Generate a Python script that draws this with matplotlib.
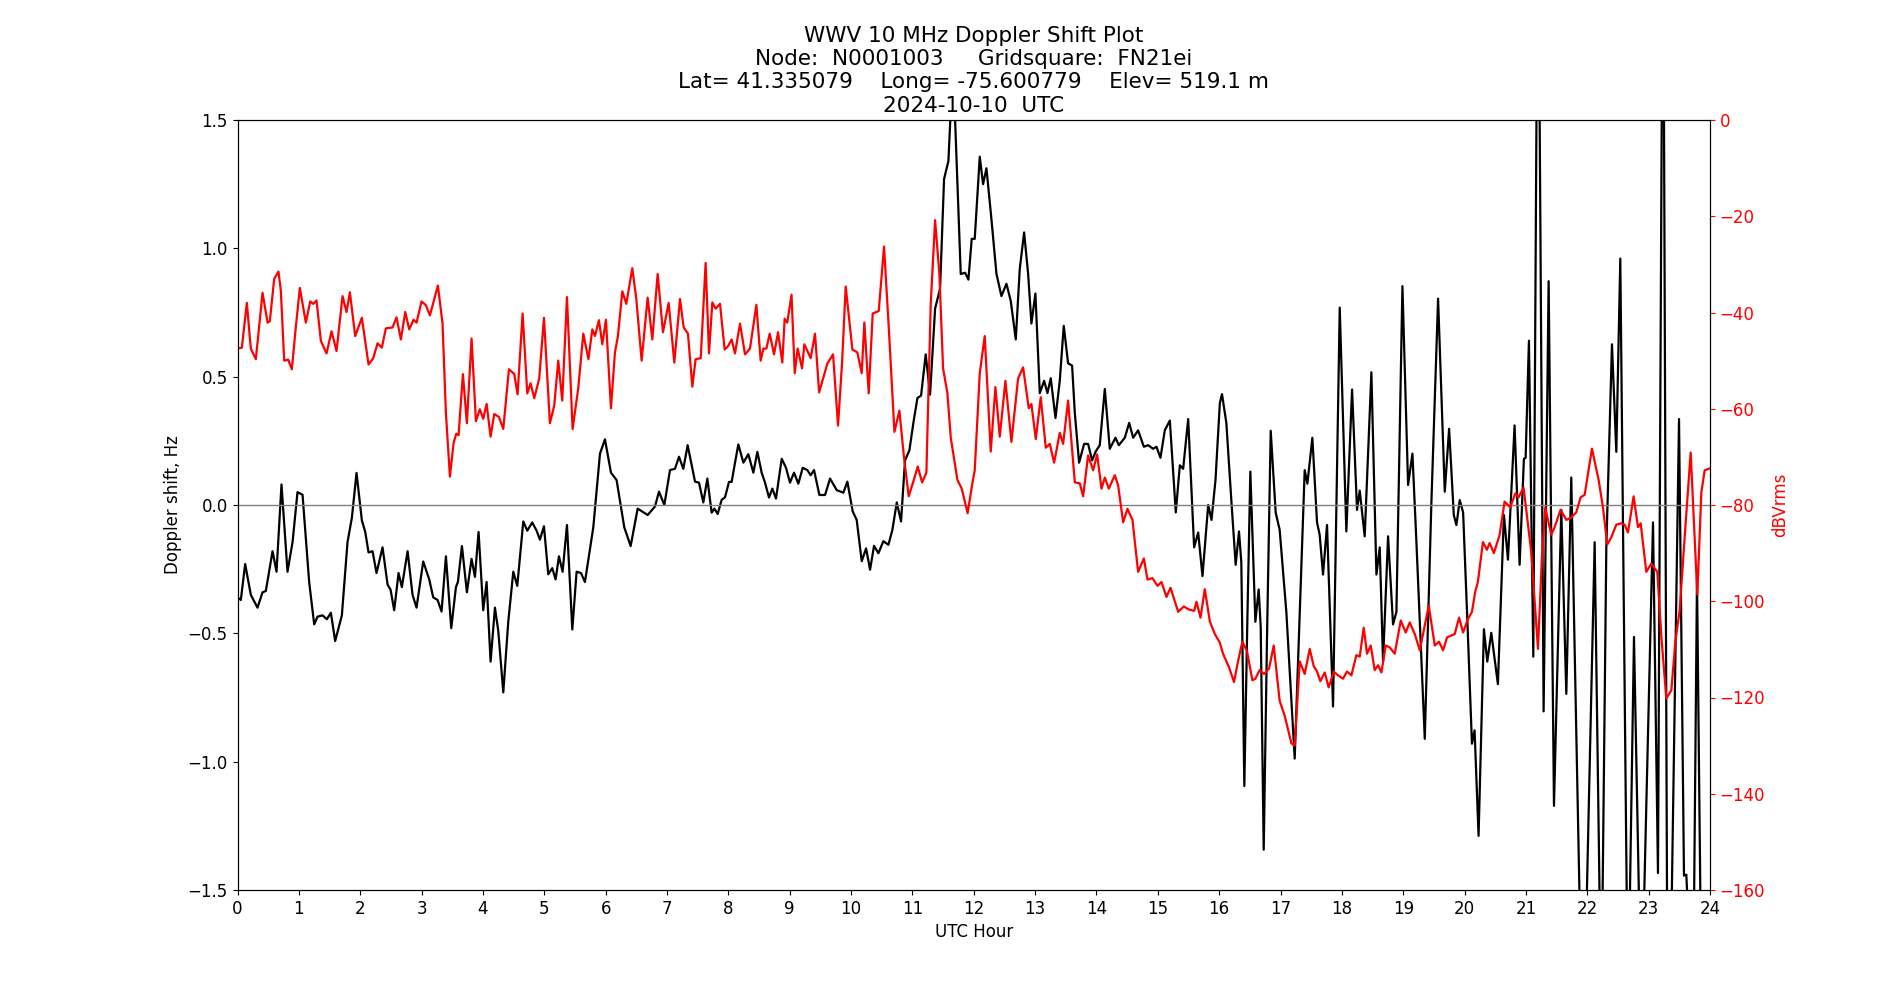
import matplotlib
matplotlib.use('Agg')
import matplotlib.pyplot as plt

# Doppler shift (black), hours / Hz
dop_hours = [0.0, 0.054, 0.125, 0.217, 0.326, 0.408, 0.462, 0.571, 0.636, 0.717, 0.815, 0.897, 0.978, 1.06,
             1.168, 1.25, 1.304, 1.386, 1.457, 1.522, 1.592, 1.701, 1.793, 1.864, 1.94, 2.027, 2.082, 2.136,
             2.201, 2.266, 2.364, 2.446, 2.495, 2.554, 2.625, 2.679, 2.772, 2.853, 2.918, 3.027, 3.125, 3.19,
             3.261, 3.326, 3.397, 3.484, 3.56, 3.592, 3.658, 3.739, 3.815, 3.87, 3.929, 4.005,
             4.06, 4.125, 4.196, 4.25, 4.332, 4.413, 4.495, 4.56, 4.658, 4.723, 4.804, 4.875, 4.929, 4.995,
             5.065, 5.13, 5.185, 5.239, 5.299, 5.37, 5.457, 5.527, 5.598, 5.663, 5.799, 5.908, 5.989, 6.087,
             6.179, 6.304, 6.408, 6.522, 6.685, 6.804, 6.87, 6.957, 7.049, 7.13, 7.196, 7.266, 7.337, 7.457,
             7.522, 7.592, 7.658, 7.728, 7.772, 7.826, 7.891, 7.946, 8.011,
             8.054, 8.109, 8.163, 8.245, 8.326, 8.408, 8.473, 8.543, 8.598, 8.663, 8.717, 8.777, 8.87, 8.94,
             9.005, 9.071, 9.141, 9.212, 9.288, 9.342, 9.397, 9.484, 9.576, 9.658, 9.766, 9.875, 9.94, 10.027,
             10.092, 10.174, 10.245, 10.31, 10.375, 10.446, 10.527, 10.609, 10.674, 10.745, 10.815, 10.88,
             10.951, 11.016, 11.082, 11.141, 11.217, 11.288, 11.37, 11.451, 11.516, 11.587, 11.641, 11.696,
             11.734, 11.788, 11.859, 11.913, 11.967, 12.016,
             12.098, 12.152, 12.207, 12.288, 12.37, 12.451, 12.533, 12.603, 12.685, 12.75, 12.821, 12.886,
             12.94, 13.005, 13.076, 13.147, 13.201, 13.255, 13.332, 13.402, 13.467, 13.538, 13.603, 13.647,
             13.717, 13.799, 13.864, 13.929, 13.989, 14.054, 14.136, 14.217, 14.31, 14.364, 14.462, 14.533,
             14.598, 14.679, 14.772, 14.842, 14.924, 14.978, 15.043, 15.114, 15.196, 15.293, 15.359, 15.413,
             15.495, 15.592, 15.658, 15.728, 15.821, 15.875, 15.94,
             16.011, 16.046, 16.117, 16.198, 16.269, 16.323, 16.361, 16.41, 16.459, 16.508, 16.59, 16.644,
             16.677, 16.726, 16.78, 16.84, 16.921, 16.986, 17.095, 17.231, 17.313, 17.394, 17.438, 17.519,
             17.595, 17.638, 17.693, 17.758, 17.856, 17.965, 18.073, 18.166, 18.247, 18.291, 18.372, 18.481,
             18.563, 18.617, 18.671, 18.753, 18.834, 18.889, 18.987, 19.079, 19.15, 19.215, 19.351, 19.459,
             19.568, 19.677, 19.748, 19.824, 19.867, 19.921, 19.976,
             20.043, 20.12, 20.163, 20.228, 20.315, 20.37, 20.435, 20.543, 20.641, 20.707, 20.815, 20.897,
             20.967, 20.995, 21.049, 21.12, 21.196, 21.288, 21.37, 21.457, 21.576, 21.658, 21.739, 21.929,
             22.12, 22.228, 22.31, 22.402, 22.473, 22.538, 22.663, 22.761, 22.88, 23.071, 23.152, 23.234,
             23.315, 23.495, 23.576, 23.614, 23.723, 23.788, 23.886, 23.967]
dop_hz = [-0.36, -0.37, -0.23, -0.35, -0.40, -0.34, -0.335, -0.18, -0.26, 0.08, -0.26, -0.145, 0.05, 0.04,
          -0.30, -0.465, -0.435, -0.43, -0.445, -0.42, -0.53, -0.43, -0.145, -0.05, 0.125, -0.06, -0.105, -0.185,
          -0.18, -0.265, -0.165, -0.31, -0.33, -0.41, -0.265, -0.32, -0.18, -0.35, -0.40, -0.22, -0.29, -0.36,
          -0.37, -0.415, -0.20, -0.48, -0.32, -0.30, -0.16, -0.34, -0.21, -0.28, -0.105, -0.41,
          -0.30, -0.61, -0.40, -0.49, -0.73, -0.455, -0.26, -0.315, -0.064, -0.10, -0.068, -0.10, -0.135, -0.083,
          -0.27, -0.246, -0.29, -0.20, -0.26, -0.078, -0.485, -0.26, -0.265, -0.30, -0.087, 0.20, 0.256, 0.126,
          0.097, -0.087, -0.16, -0.014, -0.039, -0.006, 0.052, 0.0, 0.136, 0.141, 0.188, 0.141, 0.233, 0.091,
          0.087, 0.01, 0.103, -0.03, -0.014, -0.035, 0.02, 0.03, 0.09,
          0.09, 0.165, 0.236, 0.165, 0.198, 0.126, 0.207, 0.126, 0.087, 0.029, 0.064, 0.025, 0.18, 0.145,
          0.087, 0.126, 0.083, 0.145, 0.136, 0.116, 0.136, 0.039, 0.039, 0.103, 0.058, 0.048, 0.091, -0.025,
          -0.058, -0.219, -0.169, -0.252, -0.159, -0.188, -0.141, -0.155, -0.097, 0.01, -0.064, 0.174,
          0.213, 0.32, 0.417, 0.426, 0.587, 0.43, 0.765, 0.843, 1.27, 1.34, 1.62, 1.5,
          1.25, 0.90, 0.905, 0.878, 1.037, 1.037,
          1.357, 1.25, 1.312, 1.114, 0.901, 0.814, 0.862, 0.795, 0.645, 0.92, 1.062, 0.901,
          0.707, 0.824, 0.436, 0.484, 0.436, 0.494, 0.339, 0.484, 0.698, 0.552, 0.543, 0.359,
          0.165, 0.238, 0.238, 0.174, 0.209, 0.233, 0.452, 0.219, 0.262, 0.233, 0.262, 0.32,
          0.262, 0.291, 0.227, 0.233, 0.219, 0.227, 0.184, 0.291, 0.329, -0.029, 0.155, 0.141,
          0.335, -0.165, -0.107, -0.277, 0.0, -0.058, 0.097,
          0.397, 0.432, 0.32, 0.019, -0.233, -0.103, -0.223, -1.095, -0.455, 0.13, -0.455, -0.329,
          -0.475, -1.343, -0.514, 0.289, -0.029, -0.097, -0.417, -0.988, -0.417, 0.136, 0.083, 0.262,
          -0.068, -0.116, -0.271, -0.078, -0.785, 0.769, -0.103, 0.45, -0.019, 0.056, -0.122, 0.517,
          -0.271, -0.165, -0.61, -0.122, -0.465, -0.417, 0.853, 0.078, 0.20, -0.145, -0.911, 0.01,
          0.804, 0.052, 0.297, -0.039, -0.078, 0.019, -0.029,
          -0.436, -0.93, -0.878, -1.289, -0.484, -0.61, -0.498, -0.698, -0.039, -0.213, 0.31, -0.233,
          0.18, 0.184, 0.64, -0.591, 2.5, -0.804, 0.872, -1.172, -0.019, -0.736, 0.107, -2.2,
          -0.145, -2.0, -0.165, 0.626, 0.207, 0.96, -2.0, -0.514, -2.0, -0.068, -1.434, 2.5,
          -2.5, 0.335, -1.444, -1.44, -2.0, -0.281, -2.5, -2.5]

# Signal level (red), hours / dBVrms
rssi_hours = [0.0, 0.071, 0.152, 0.217, 0.299, 0.408, 0.49, 0.527, 0.598, 0.668, 0.707, 0.761, 0.826, 0.886,
              0.94, 1.016, 1.114, 1.185, 1.234, 1.288, 1.359, 1.451, 1.533, 1.614, 1.712, 1.777, 1.832, 1.918,
              2.027, 2.136, 2.212, 2.283, 2.353, 2.418, 2.527, 2.592, 2.663, 2.734, 2.799, 2.87, 2.918, 3.0,
              3.071, 3.136, 3.266, 3.342, 3.397, 3.462, 3.522, 3.565, 3.603, 3.674, 3.739, 3.815, 3.886, 3.95,
              4.005, 4.06, 4.125, 4.185, 4.261, 4.332, 4.424, 4.511, 4.565, 4.647, 4.723, 4.777, 4.837, 4.918,
              4.995, 5.092, 5.163, 5.228, 5.293, 5.37, 5.462, 5.554, 5.636, 5.72, 5.783, 5.826, 5.891, 5.946,
              6.005, 6.087, 6.152, 6.201, 6.272, 6.337, 6.435, 6.5, 6.587, 6.685, 6.761, 6.848, 6.935, 7.027,
              7.12, 7.212, 7.272, 7.342, 7.413, 7.467, 7.55, 7.63, 7.685, 7.739, 7.793, 7.864, 7.94, 7.995,
              8.054, 8.109, 8.19, 8.272, 8.353, 8.457, 8.527, 8.571, 8.62, 8.674, 8.745, 8.81, 8.88, 8.918,
              8.96, 9.03, 9.082, 9.13, 9.201, 9.239, 9.342, 9.413, 9.48, 9.614, 9.707, 9.788, 9.853, 9.913,
              10.022, 10.103, 10.174, 10.217, 10.288, 10.353, 10.451, 10.538, 10.625, 10.707, 10.788, 10.864,
              10.94, 11.016, 11.087, 11.158, 11.228, 11.299, 11.37, 11.44, 11.5, 11.571, 11.625, 11.734,
              11.804, 11.9, 11.98, 12.016,
              12.098, 12.179, 12.277, 12.353, 12.424, 12.516, 12.614, 12.723, 12.804, 12.897, 12.94, 13.011,
              13.092, 13.174, 13.239, 13.31, 13.402, 13.457, 13.538, 13.647, 13.728, 13.783, 13.864, 13.946,
              14.011, 14.082, 14.136, 14.201, 14.299, 14.353, 14.435, 14.505, 14.587, 14.679, 14.772, 14.832,
              14.913, 14.995, 15.06, 15.141, 15.207, 15.332, 15.424, 15.505, 15.592, 15.63, 15.696, 15.766,
              15.848, 15.929, 16.011,
              16.063, 16.16, 16.242, 16.307, 16.378, 16.454, 16.541, 16.59, 16.66, 16.731, 16.813, 16.889,
              16.986, 17.068, 17.177, 17.231, 17.313, 17.394, 17.476, 17.541, 17.595, 17.649, 17.72, 17.785,
              17.867, 17.937, 18.019, 18.084, 18.155, 18.236, 18.291, 18.356, 18.41, 18.47, 18.535, 18.59,
              18.644, 18.715, 18.78, 18.862, 18.96, 19.041, 19.106, 19.188, 19.27, 19.416, 19.514, 19.584,
              19.649, 19.715, 19.84, 19.91, 19.976,
              20.054, 20.12, 20.174, 20.217, 20.299, 20.364, 20.408, 20.478, 20.571, 20.652, 20.745, 20.826,
              20.88, 20.962, 21.087, 21.196, 21.261, 21.315, 21.413, 21.467, 21.565, 21.658, 21.739, 21.821,
              21.891, 21.957, 22.076, 22.185, 22.255, 22.326, 22.391, 22.473, 22.554, 22.609, 22.663, 22.755,
              22.826, 22.87, 22.962, 23.043, 23.141, 23.207, 23.288, 23.37, 23.435, 23.505, 23.587, 23.685,
              23.793, 23.859, 23.913, 23.995]
rssi_db = [-47.5, -47.3, -38.0, -47.5, -49.7, -35.9, -42.1, -41.8, -33.0, -31.5, -35.6, -50.0, -49.8, -51.8,
           -44.4, -34.9, -42.1, -37.7, -38.2, -37.5, -45.9, -48.5, -43.9, -48.0, -36.6, -39.9, -35.8, -44.9,
           -41.1, -50.8, -49.5, -46.4, -47.3, -43.3, -43.1, -41.0, -45.6, -39.9, -43.5, -41.5, -42.1, -37.7,
           -38.5, -40.6, -34.4, -42.3, -60.9, -74.1, -67.1, -65.2, -65.5, -52.8, -63.0, -45.4, -62.6, -60.1,
           -62.1, -59.0, -65.8, -61.1, -61.7, -64.2, -51.8, -52.8, -57.0, -40.2, -56.8, -54.7, -57.8, -53.7,
           -41.1, -63.0, -59.3, -50.0, -58.3, -36.8, -64.2, -55.7, -44.4, -49.7, -43.5, -44.9, -41.6, -46.6,
           -41.5, -59.9, -48.3, -44.9, -35.6, -38.2, -30.8, -37.2, -50.0, -36.9, -45.6, -32.0, -44.1, -38.0,
           -50.4, -37.2, -43.1, -44.4, -55.4, -49.7, -49.5, -29.7, -48.5, -37.9, -39.2, -38.2, -47.7, -47.0,
           -45.6, -48.5, -42.3, -48.7, -47.5, -38.4, -50.0, -47.5, -47.5, -44.4, -48.7, -44.1, -50.4, -41.3,
           -42.1, -36.3, -52.6, -47.5, -51.6, -46.6, -49.5, -44.4, -56.6, -50.6, -48.7, -63.5, -50.6, -34.6,
           -47.7, -48.3, -52.6, -42.1, -56.8, -40.2, -39.7, -26.3, -45.4, -64.8, -60.4, -70.2,
           -78.2, -75.1, -72.0, -75.3, -73.3, -38.2, -20.8, -32.0, -51.6, -56.8, -66.0, -74.8,
           -76.6, -81.7, -75.3, -72.8,
           -52.6, -44.9, -68.9, -55.5, -65.8, -54.2, -66.9, -53.7, -51.4, -59.9, -59.0, -66.3,
           -57.6, -68.1, -67.3, -71.2, -65.0, -67.3, -58.3, -75.3, -75.5, -78.2, -69.7, -72.8,
           -69.5, -76.6, -74.3, -76.6, -73.8, -75.9, -83.6, -80.8, -83.1, -93.9, -91.1, -95.5,
           -95.2, -96.8, -96.0, -99.1, -97.2, -102.2, -101.1, -101.7, -102.0, -100.1, -103.4, -97.5,
           -104.2, -106.8, -108.6,
           -110.9, -113.7, -116.8, -112.5, -108.4, -110.4, -116.4, -116.1, -114.3, -115.1, -114.0, -109.2,
           -120.7, -123.8, -129.5, -130.0, -112.5, -115.1, -109.9, -113.5, -114.6, -116.6, -114.8, -117.9,
           -114.6, -115.4, -116.1, -114.6, -115.4, -111.2, -111.5, -105.5, -110.9, -109.2, -114.3, -113.3,
           -114.8, -109.2, -109.6, -110.9, -104.0, -106.5, -104.4, -106.8, -110.2, -100.9, -109.2, -108.4,
           -110.2, -107.5, -106.8, -103.4, -106.5,
           -103.7, -102.2, -98.0, -96.0, -87.7, -89.3, -87.9, -90.0, -86.2, -79.3, -80.5, -77.6,
           -78.4, -76.4, -89.8, -109.9, -90.8, -80.5, -86.2, -84.6, -81.0, -83.1, -82.6, -81.5,
           -78.4, -77.9, -68.3, -74.8, -80.5, -88.2, -86.7, -84.1, -83.8, -84.1, -85.7, -78.2,
           -84.6, -83.8, -93.9, -92.2, -93.9, -107.3, -120.2, -118.5, -108.4, -102.0, -86.7, -69.1,
           -98.6, -77.4, -72.8, -72.4]

hour_ticks = list(range(0, 25))

fig, ax = plt.subplots(figsize=(19, 10), dpi=100)
plt.rcParams.update({'font.size': 12})

ax.plot(dop_hours, dop_hz, color='black', linewidth=1.6)
ax.axhline(0, color='gray', linewidth=1)
ax.set_xlim(0, 24)
ax.set_ylim(-1.5, 1.5)
ax.set_xticks(hour_ticks)
ax.tick_params(labelsize=12)
ax.set_xlabel('UTC Hour', fontsize=12)
ax.set_ylabel('Doppler shift, Hz', fontsize=12)

ax2 = ax.twinx()
ax2.plot(rssi_hours, rssi_db, color='red', linewidth=1.6)
ax2.set_ylim(-160, 0)
ax2.set_ylabel('dBVrms', color='red', fontsize=12)
ax2.tick_params(axis='y', colors='red', labelsize=12)

ax.set_title('WWV 10 MHz Doppler Shift Plot\n'
             'Node:  N0001003     Gridsquare:  FN21ei\n'
             'Lat= 41.335079    Long= -75.600779    Elev= 519.1 m\n'
             '2024-10-10  UTC', fontsize=15.5)

plt.savefig('out.png', dpi=100)
